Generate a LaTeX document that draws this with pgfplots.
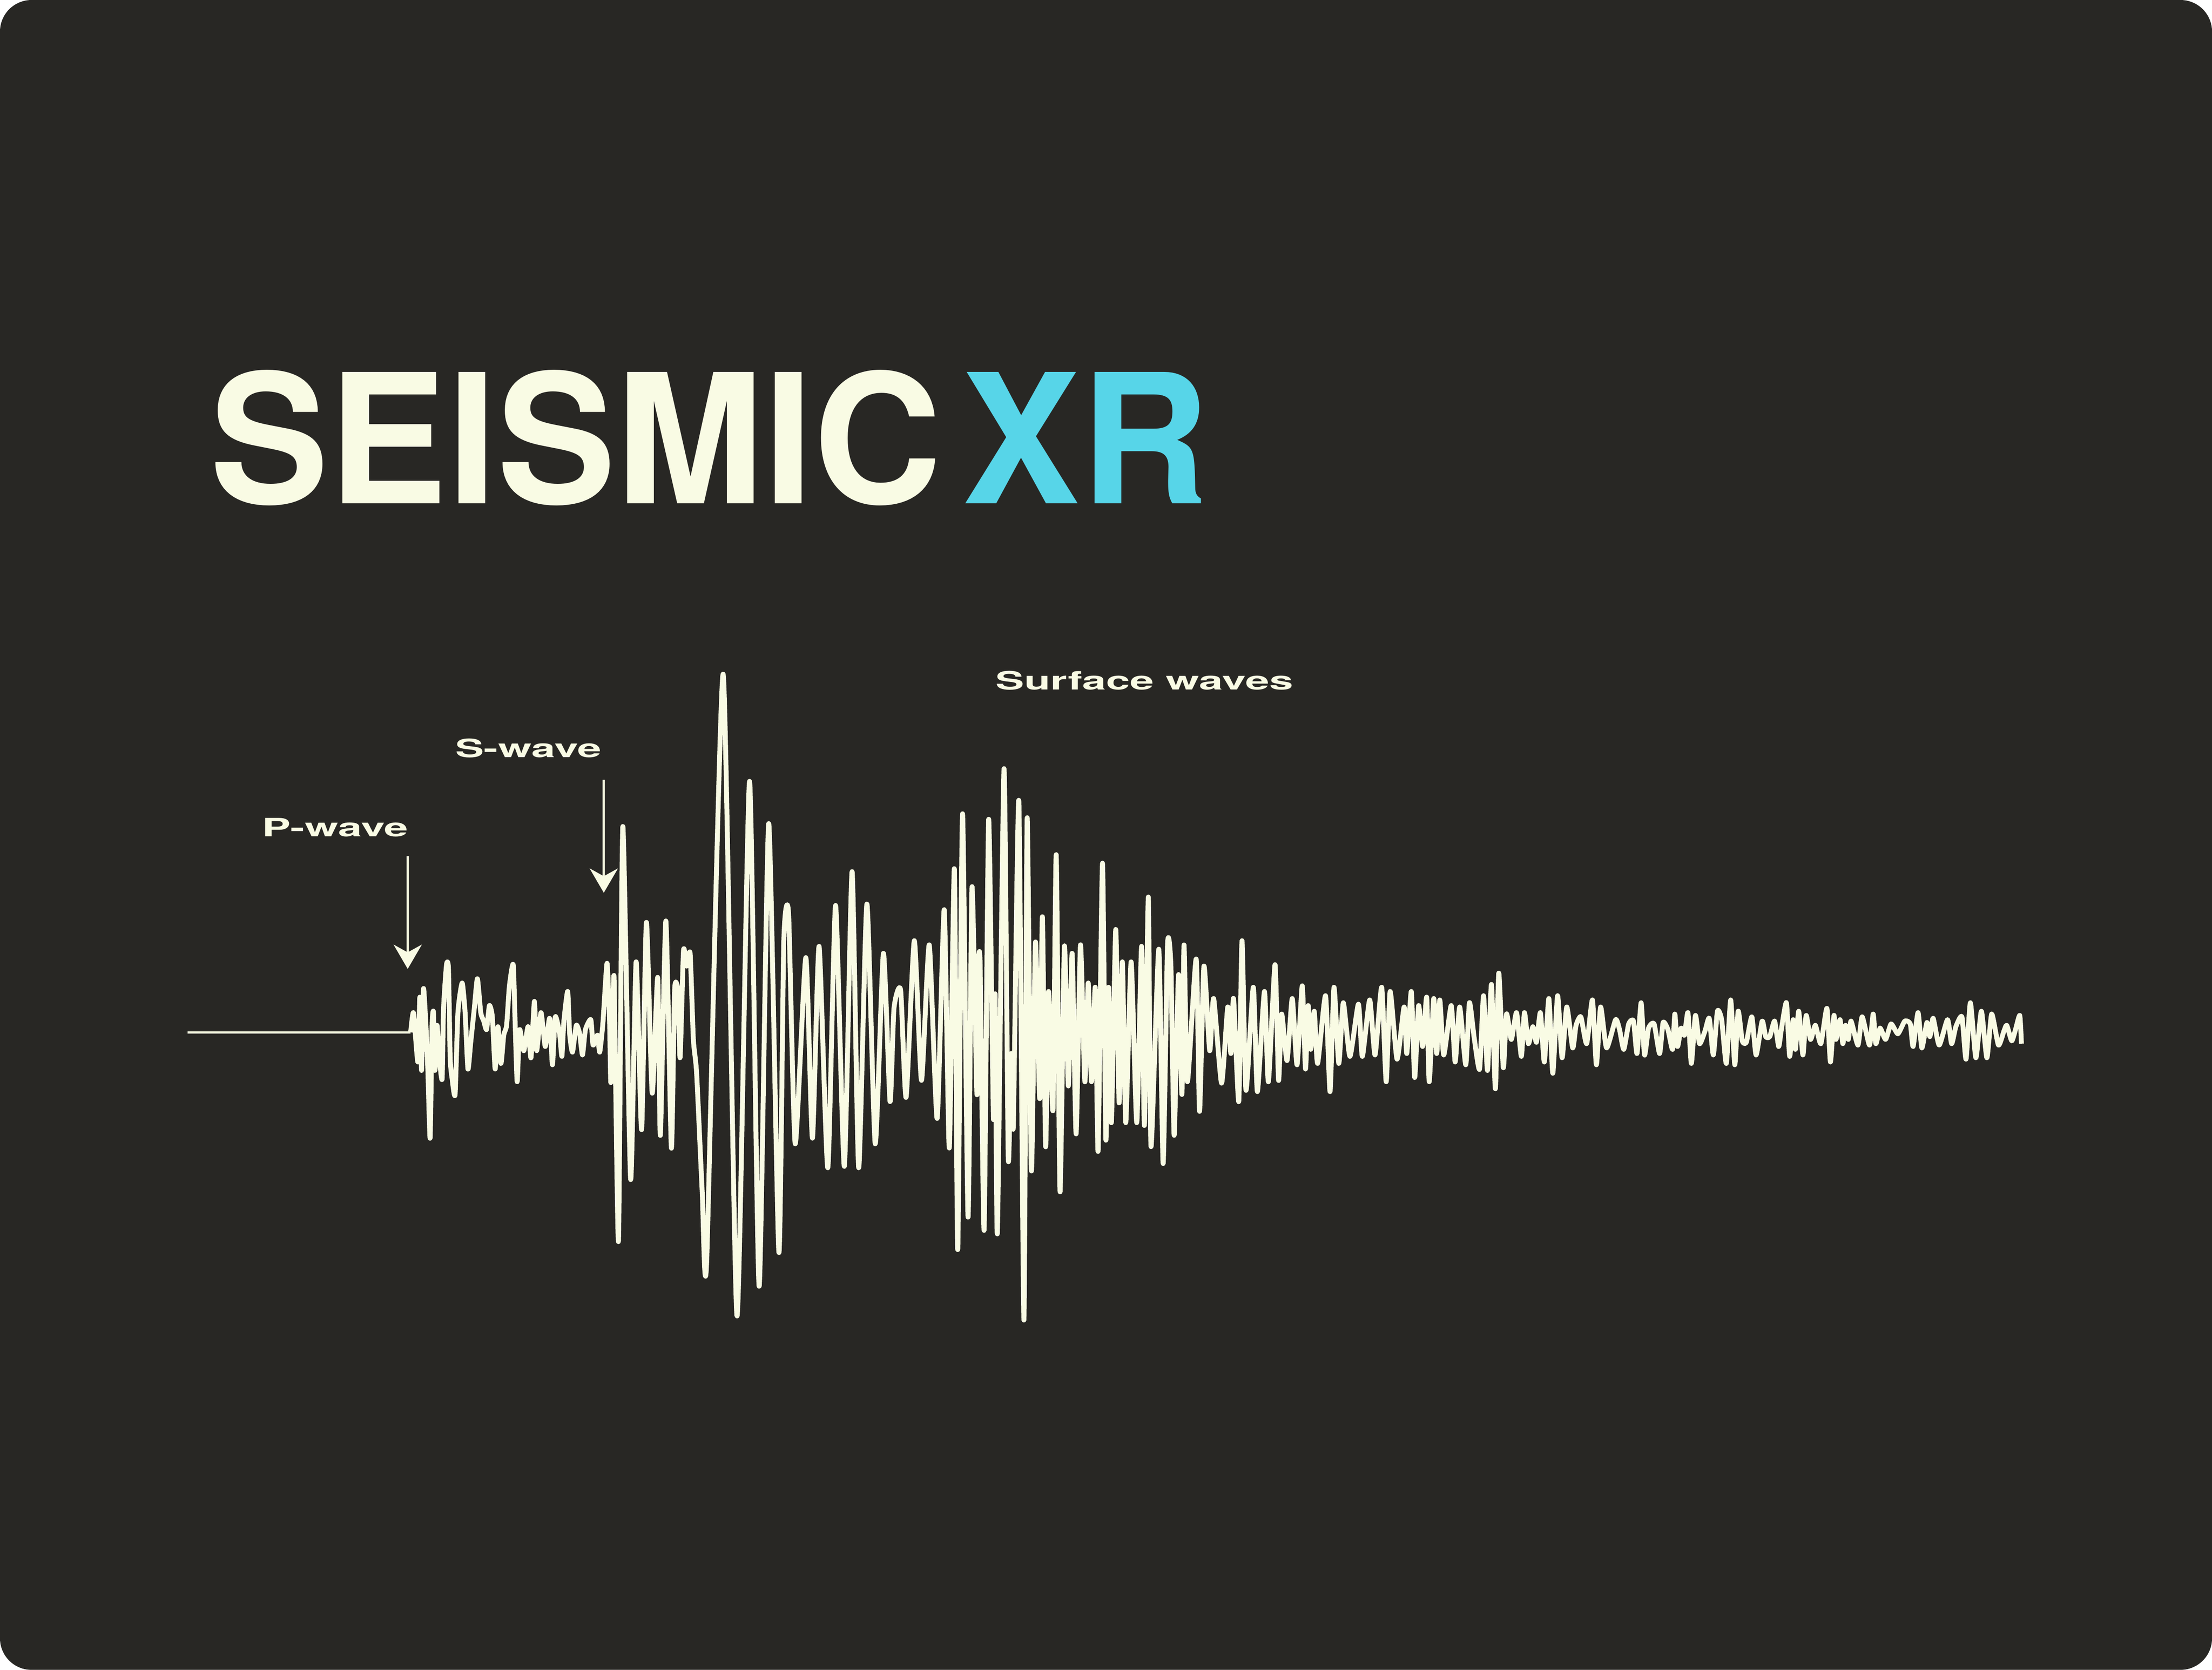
\documentclass[border=0pt]{standalone}
\usepackage{fontspec}
\setmainfont{TeX Gyre Heros}
\usepackage{pgfplots}
\pgfplotsset{compat=1.18}
\usetikzlibrary{arrows.meta}

\definecolor{bg}{HTML}{282724}
\definecolor{cream}{HTML}{F9FBE4}
\definecolor{xrcyan}{HTML}{57D5E8}

% labels set in a wide bold sans
\newcommand{\wavelabel}[1]{\scalebox{1.70}[1]{\fontsize{5.2}{6}\selectfont\bfseries #1}}
\newcommand{\titlepart}[1]{\scalebox{0.988}[1]{\fontsize{37.1}{40}\selectfont\bfseries #1}}

\begin{document}
\begin{tikzpicture}
\begin{axis}[
    width=16cm, height=12.082cm, scale only axis,
    xmin=0, xmax=1568, ymin=0, ymax=1184,
    y dir=reverse,
    hide axis, clip=false,
]
% card
\fill[white] (axis cs:0,0) rectangle (axis cs:1568,1184);
\fill[bg, rounded corners=6.5pt] (axis cs:0,0) rectangle (axis cs:1568,1184);

% title
\node[anchor=base west, inner sep=0, text=cream] at (axis cs:148,357) {\titlepart{SEISMIC}};
\node[anchor=base west, inner sep=0, text=xrcyan] at (axis cs:681,357) {\titlepart{XR}};

% quiet trace before the first arrival
\addplot[cream, line width=0.45pt, mark=none] coordinates {
    (133,732) (291.1,732)
};

% seismogram
\addplot[cream, line width=1.0pt, line join=round, mark=none, smooth, tension=0.35] coordinates {
    (291.1,732)
    % P-wave arrival
    (293.1,718) (296.2,753) (297.6,707) (298.8,759) (300.2,701) (302.2,733)
    (303.3,759) (304.9,807) (306.3,727) (307.3,718) (308.3,759) (309.8,727)
    (311.4,750) (313.4,765) (314.4,715) (316.5,684) (317.9,687) (319.1,750)
    (320.5,765) (322.6,776) (324.6,718) (327.6,697) (329.7,718) (331.7,758)
    (333.7,739) (336.2,715) (338.4,694) (340.8,718) (342.9,724) (344.9,730)
    (346.9,713) (349.0,721) (351.0,758) (353.0,728) (355.1,754) (357.1,734)
    (359.1,727) (361.1,699) (363.8,684) (365.2,727) (366.6,767) (368.3,730)
    (371.3,745) (374.3,728) (376.4,750) (378.8,710) (380.4,745) (383.5,718)
    (386.5,742) (389.6,722) (391.6,755) (393.6,721) (396.7,733) (398.3,749)
    (399.7,724) (402.4,703) (403.8,733) (405.8,746) (408.5,727) (410.9,733)
    (412.9,748) (415.0,730)
    % S-wave arrival
    (418.8,723) (420.4,741) (423.5,734) (425.1,746) (427.4,725) (430.3,683)
    (432.1,725) (432.9,767) (434.0,755) (435.3,693) (438.4,880) (441.5,586)
    (447.0,836) (450.9,682) (454.8,801) (458.2,654) (462.3,775) (466.2,693)
    (468.1,805) (472.0,653) (475.9,814) (478.2,702) (480.6,703) (482.1,750)
    (484.5,674) (486.8,685) (489.2,676) (491.5,737) (493.8,761) (497.8,846)
    (500.9,895) (512.6,478) (522.4,933) (531.3,554) (538.1,912) (544.9,584)
    (552.1,888) (555.6,667) (559.0,648) (563.7,811) (571.2,679) (575.9,807)
    (580.6,671) (586.8,828) (592.3,642) (598.5,827) (604.0,618) (608.7,828)
    (614.5,641) (620.4,811) (626.2,676) (630.9,781) (633.7,715) (638.4,702)
    (642.3,778) (648.1,667) (653.2,766) (658.7,670)
    % surface waves
    (664.3,793) (669.3,645) (672.9,814) (676.5,616) (678.9,886) (682.3,577)
    (686.2,863) (689.0,629) (692.5,776) (693.6,685) (694.8,685) (697.6,872)
    (700.8,581) (704.2,793) (705.4,705) (707.0,874) (711.7,545) (714.7,821)
    (716.7,747) (718.3,798) (722.2,568) (725.8,936) (728.1,580) (731.1,830)
    (734.0,668) (737.0,779) (738.9,650) (741.2,813) (743.3,703) (746.4,787)
    (748.7,606) (751.4,845) (754.5,671) (757.3,770) (760.0,676) (762.8,804)
    (765.9,670) (769.0,767) (771.4,697) (773.7,767) (776.4,700) (778.4,816)
    (781.5,612) (783.9,808) (785.8,700) (787.8,796) (790.9,659) (793.3,782)
    (795.6,682) (798.0,796) (801.8,682) (805.8,796) (809.2,671) (811.2,798)
    (814.0,636) (815.9,813) (821.4,673) (824.5,825) (827.6,670) (830.0,685)
    (832.3,805) (835.4,691) (837.8,776) (839.3,670) (841.7,767) (847.9,680)
    (850.3,788) (853.4,685) (857.5,745)
    (860.3,708) (865.9,768) (870.3,714) (872.5,747) (874.4,708) (878.1,781)
    (880.4,667) (883.2,773) (888.4,700) (891.3,774) (896.3,703) (899.1,767)
    (903.8,684) (906.3,766) (908.5,719) (912.3,752) (916.0,708) (919.4,755)
    (923.1,699) (925.4,758) (927.3,713) (929.1,744) (931.6,717) (934.0,754)
    (939.6,706) (942.8,774) (945.6,700) (949.0,754) (952.2,711) (956.9,749)
    (962.9,712) (965.7,749) (970.9,709) (974.7,748) (979.4,700) (982.6,767)
    (985.4,703) (990.3,751) (995.3,714) (997.2,747) (1000.4,703) (1002.8,764)
    (1005.6,713) (1008.4,742) (1011.3,707) (1013.1,767) (1016.3,708) (1018.4,747)
    (1020.6,709) (1023.4,748) (1028.7,713) (1031.5,753) (1034.7,714) (1039.0,755)
    (1041.6,711) (1045.0,736) (1048.8,758) (1051.6,706) (1054.4,759) (1057.2,698)
    (1060.0,772) (1062.4,690) (1065.6,757) (1067.9,719) (1071.3,737) (1075.0,718)
    (1078.4,749) (1080.6,718) (1083.4,740) (1086.6,728) (1089.1,739) (1091.9,718)
    (1094.7,753) (1097.9,708) (1100.7,761) (1104.1,706) (1107.3,750) (1110.6,714)
    (1114.8,743) (1117.2,727) (1120.6,721) (1124.7,740) (1128.8,709) (1131.6,755)
    (1134.6,714) (1138.8,743)
    % coda
    (1145.2,723) (1148.0,730) (1151.0,744) (1154.5,726) (1157.9,724) (1160.4,747)
    (1163.3,711) (1165.7,748) (1168.6,729) (1172.5,726) (1176.4,747) (1178.9,725)
    (1182.3,730) (1185.6,744) (1187.2,719) (1189.1,742) (1191.6,729) (1194.0,734)
    (1196.5,718) (1198.9,754) (1201.8,720) (1204.7,740) (1208.6,731) (1211.6,722)
    (1214.5,748) (1217.4,717) (1220.4,723) (1223.7,754) (1226.8,709) (1229.7,755)
    (1232.1,717) (1235.0,738) (1237.9,739) (1241.8,721) (1244.8,748) (1249.1,724)
    (1251.6,735) (1254.5,735) (1257.9,724) (1260.8,742) (1262.7,730) (1266.3,711)
    (1268.6,749) (1271.1,723) (1272.7,744) (1275.0,717) (1278.0,748) (1280.3,720)
    (1283.4,737) (1286.8,727) (1290.7,740) (1295.0,715) (1297.5,753) (1300.0,720)
    (1301.4,737) (1304.3,723) (1306.3,740) (1308.2,727) (1310.2,737) (1312.1,724)
    (1317.0,741) (1320.0,721) (1325.2,741) (1327.8,719) (1329.7,740) (1332.7,729)
    (1336.6,737) (1340.5,726) (1345.3,733) (1350.2,724) (1354.1,726) (1356.1,742)
    (1359.6,718) (1362.3,743) (1365.9,725) (1368.0,735) (1370.3,722) (1374.6,741)
    (1380.5,723) (1383.4,740) (1386.4,728) (1390.7,721) (1393.6,751) (1396.7,711)
    (1400.6,750) (1404.5,717) (1408.4,750) (1411.8,719) (1416.6,741) (1420.5,731)
    (1422.5,727) (1426.0,738) (1428.7,730) (1431.7,720) (1432.9,740)
};

% phase labels and arrows
\node[anchor=base west, inner sep=0, text=cream] at (axis cs:185,593) {\wavelabel{P-wave}};
\node[anchor=base west, inner sep=0, text=cream] at (axis cs:322,537) {\wavelabel{S-wave}};
\node[anchor=base west, inner sep=0, text=cream] at (axis cs:705,489) {\wavelabel{Surface waves}};
\draw[cream, line width=0.45pt, -{Stealth[length=5pt, width=5.8pt, inset=1.6pt]}]
    (axis cs:289,607) -- (axis cs:289,687);
\draw[cream, line width=0.45pt, -{Stealth[length=5pt, width=5.8pt, inset=1.6pt]}]
    (axis cs:428,553) -- (axis cs:428,633);
\end{axis}
\end{tikzpicture}
\end{document}
